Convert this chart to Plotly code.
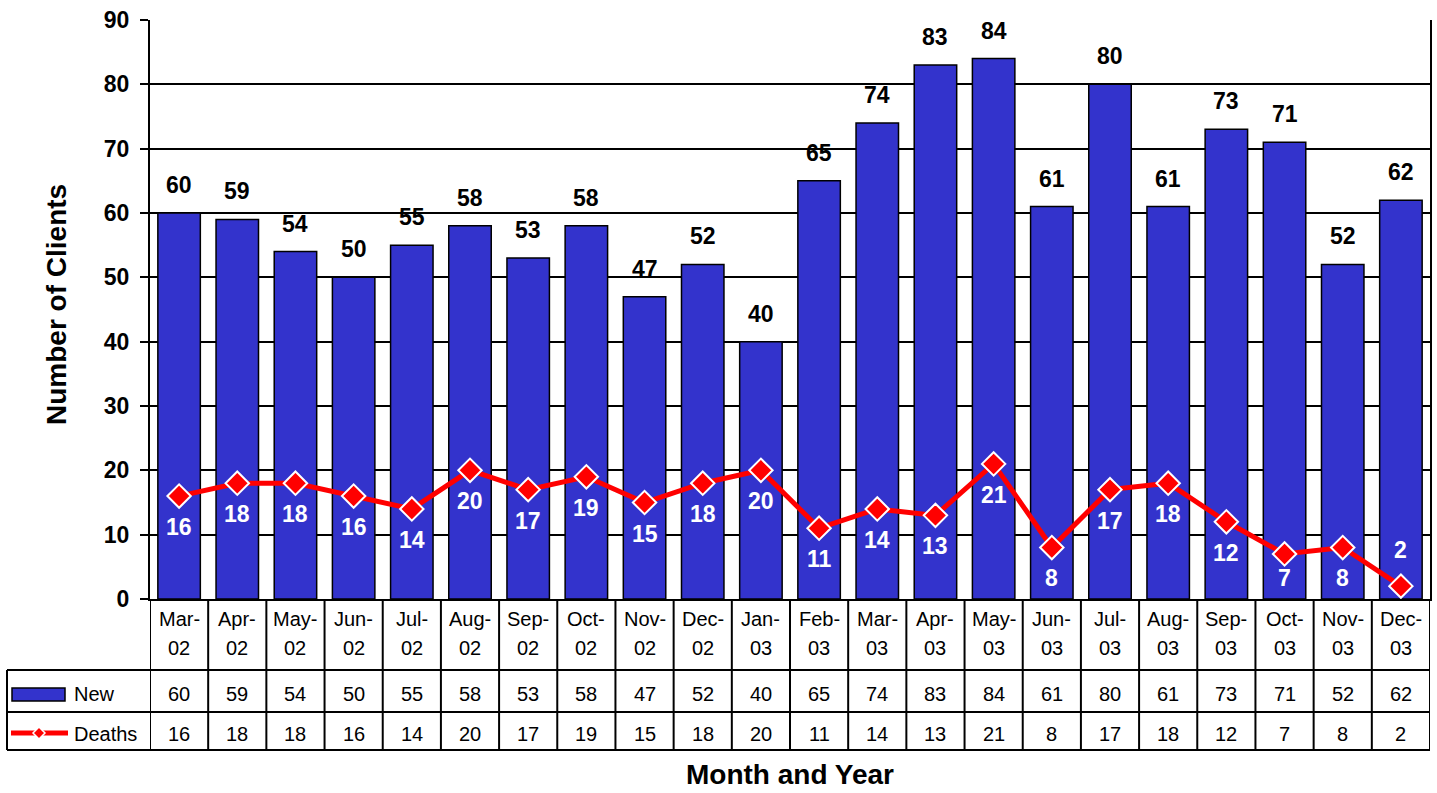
import plotly.graph_objects as go

categories = ["Mar-02", "Apr-02", "May-02", "Jun-02", "Jul-02", "Aug-02", "Sep-02", "Oct-02",
              "Nov-02", "Dec-02", "Jan-03", "Feb-03", "Mar-03", "Apr-03", "May-03", "Jun-03",
              "Jul-03", "Aug-03", "Sep-03", "Oct-03", "Nov-03", "Dec-03"]
new_clients = [60, 59, 54, 50, 55, 58, 53, 58, 47, 52, 40, 65, 74, 83, 84, 61, 80, 61, 73, 71, 52, 62]
deaths = [16, 18, 18, 16, 14, 20, 17, 19, 15, 18, 20, 11, 14, 13, 21, 8, 17, 18, 12, 7, 8, 2]
y_ticks = [0, 10, 20, 30, 40, 50, 60, 70, 80, 90]

W, H = 1437, 793
ML, MR, MT, MB = 150, 7, 20, 194
PH = H - MT - MB
PW = W - ML - MR
FONT = "Liberation Sans, Arial, sans-serif"
BLUE = "#3333CC"
RED = "#FF0000"
YMAX = 90


def py(p):
    """pixel row -> paper y"""
    return (H - MB - p) / PH


def px(p):
    """pixel column -> paper x"""
    return (p - ML) / PW


fig = go.Figure()
fig.add_trace(go.Bar(
    x=categories, y=new_clients, name="New",
    marker=dict(color=BLUE, line=dict(color="black", width=1.5)),
))
fig.add_trace(go.Scatter(
    x=categories, y=deaths, name="Deaths", mode="lines+markers",
    line=dict(color=RED, width=5),
    marker=dict(symbol="diamond", size=18, color=RED, line=dict(color="white", width=2)),
    cliponaxis=False,
))

ann = []
# bar value labels
for c, v in zip(categories, new_clients):
    ann.append(dict(x=c, y=v, xref="x", yref="y", text=str(v), showarrow=False,
                    yanchor="bottom", yshift=13,
                    font=dict(family=FONT, size=23, color="black", weight="bold")))
# deaths labels
ppu = PH / YMAX
for c, v in zip(categories, deaths):
    if v <= 3:
        shift = 36
    else:
        center = max(v * ppu - 31, 21)
        shift = center - v * ppu
    ann.append(dict(x=c, y=v, xref="x", yref="y", text=str(v), showarrow=False,
                    yanchor="middle", yshift=shift,
                    font=dict(family=FONT, size=23, color="white", weight="bold")))

# table text
tfont = dict(family=FONT, size=20, color="black")
for c, v, d in zip(categories, new_clients, deaths):
    mon, yr = c.split("-")
    ann.append(dict(x=c, y=py(619), xref="x", yref="paper", text=mon + "-", showarrow=False,
                    yanchor="middle", font=tfont))
    ann.append(dict(x=c, y=py(648), xref="x", yref="paper", text=yr, showarrow=False,
                    yanchor="middle", font=tfont))
    ann.append(dict(x=c, y=py(694), xref="x", yref="paper", text=str(v), showarrow=False,
                    yanchor="middle", font=tfont))
    ann.append(dict(x=c, y=py(734), xref="x", yref="paper", text=str(d), showarrow=False,
                    yanchor="middle", font=tfont))

# legend texts
ann.append(dict(x=px(72), y=py(694), xref="paper", yref="paper", text="New", showarrow=False,
                xanchor="left", yanchor="middle", font=tfont))
ann.append(dict(x=px(72), y=py(734), xref="paper", yref="paper", text="Deaths", showarrow=False,
                xanchor="left", yanchor="middle", font=tfont))

# axis titles
ann.append(dict(x=px(56), y=py(305), xref="paper", yref="paper", text="Number of Clients",
                showarrow=False, textangle=-90, xanchor="center", yanchor="middle",
                font=dict(family=FONT, size=28, color="black", weight="bold")))
ann.append(dict(x=px(790), y=py(775), xref="paper", yref="paper", text="Month and Year",
                showarrow=False, xanchor="center", yanchor="middle",
                font=dict(family=FONT, size=28, color="black", weight="bold")))

shapes = []
lw = 2
n = len(categories)
# vertical column lines
for i in range(n + 1):
    shapes.append(dict(type="line", xref="x", yref="paper", x0=i - 0.5, x1=i - 0.5,
                       y0=0, y1=py(750), line=dict(color="black", width=lw)))
# horizontal table lines
for r in (670, 712, 750):
    shapes.append(dict(type="line", xref="paper", yref="paper", x0=px(7), x1=1,
                       y0=py(r), y1=py(r), line=dict(color="black", width=lw)))
shapes.append(dict(type="line", xref="paper", yref="paper", x0=px(7), x1=px(7),
                   y0=py(670), y1=py(750), line=dict(color="black", width=lw)))
# legend symbols
shapes.append(dict(type="rect", xref="paper", yref="paper", x0=px(12), x1=px(65),
                   y0=py(701), y1=py(688), fillcolor=BLUE, line=dict(color="black", width=1.5)))
shapes.append(dict(type="line", xref="paper", yref="paper", x0=px(11), x1=px(68),
                   y0=py(733), y1=py(733), line=dict(color=RED, width=5)))
cx, cy, r = 39, 733, 6
path = "M {} {} L {} {} L {} {} L {} {} Z".format(px(cx - r), py(cy), px(cx), py(cy - r),
                                                  px(cx + r), py(cy), px(cx), py(cy + r))
shapes.append(dict(type="path", xref="paper", yref="paper", path=path, fillcolor=RED,
                   line=dict(color="white", width=1.5)))

fig.update_layout(
    width=W, height=H,
    margin=dict(l=ML, r=MR, t=MT, b=MB, autoexpand=False),
    plot_bgcolor="white", paper_bgcolor="white",
    showlegend=False, bargap=0.27,
    annotations=ann, shapes=shapes,
    font=dict(family=FONT, color="black"),
)
fig.update_xaxes(range=[-0.5, n - 0.5], showticklabels=False, showgrid=False,
                 showline=True, linecolor="black", linewidth=lw, ticks="", zeroline=False)
fig.update_yaxes(range=[0, YMAX], tickvals=y_ticks, showgrid=True, gridcolor="black", gridwidth=lw,
                 showline=True, linecolor="black", linewidth=lw, mirror=True,
                 ticks="outside", ticklen=8, tickwidth=lw, tickcolor="black",
                 ticklabelstandoff=6, zeroline=False,
                 tickfont=dict(family=FONT, size=23, color="black", weight="bold"))

fig.write_html("out.html", config={"displayModeBar": False},
               post_script="document.body.style.margin='0';document.body.style.overflow='hidden';")
